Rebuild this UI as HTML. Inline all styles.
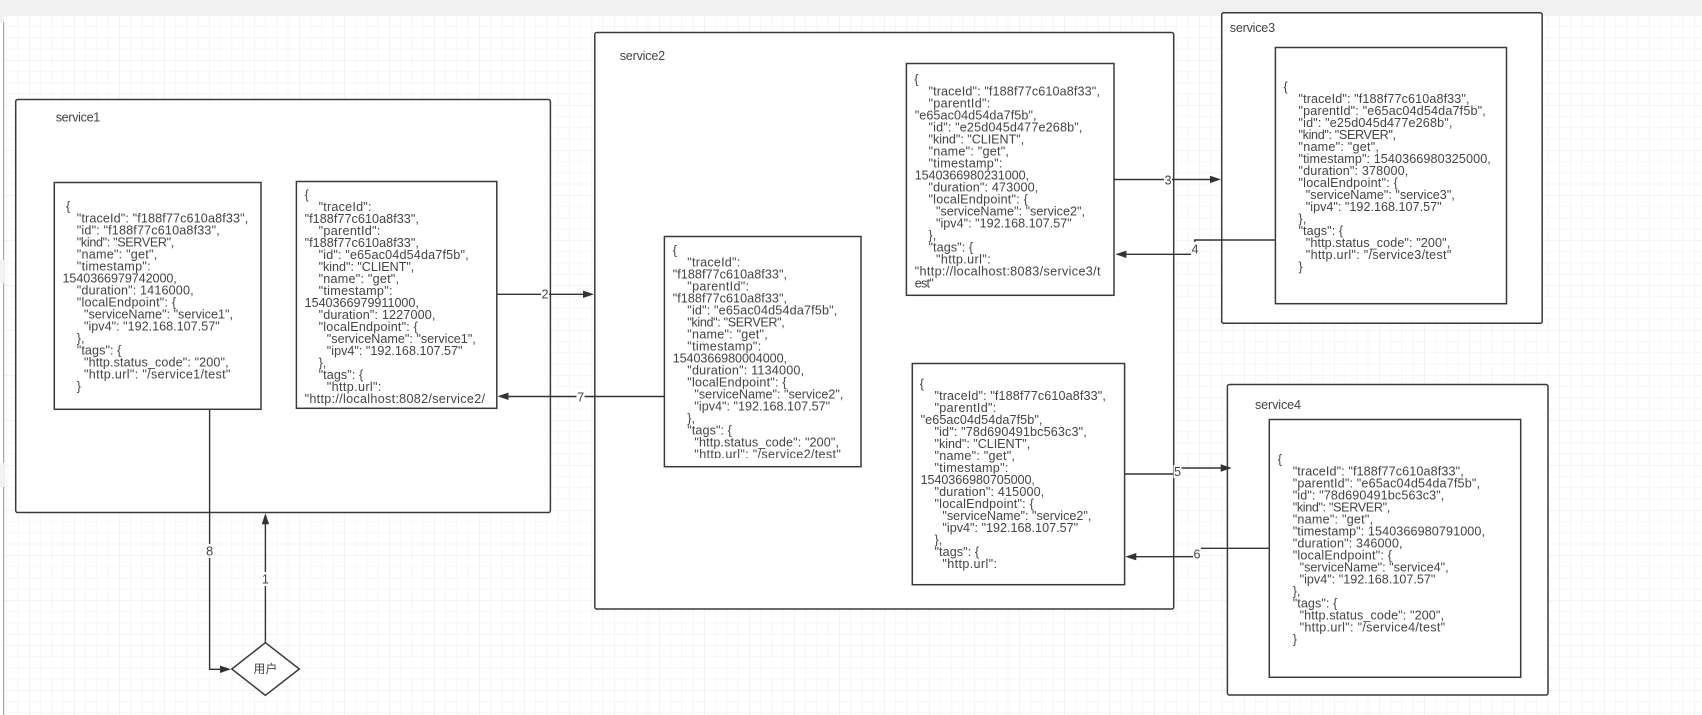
<!DOCTYPE html>
<html><head><meta charset="utf-8"><style>
html,body{margin:0;padding:0;background:#fff;width:1702px;height:715px;overflow:hidden}
svg{display:block}
.t{font-family:"Liberation Sans","Noto Sans CJK SC",sans-serif;font-size:12.6px;fill:#444}
.b{fill:#fff;stroke:#3a3a3a;stroke-width:1.5}
.l{fill:none;stroke:#333;stroke-width:1.4}
.a{fill:#333}
.w{fill:#fff}
</style></head><body>
<svg width="1702" height="715" viewBox="0 0 1702 715" xmlns="http://www.w3.org/2000/svg">
<defs>
<pattern id="g" patternUnits="userSpaceOnUse" x="29.3" y="15.3" width="45" height="45">
<path d="M11.25 0V45M22.5 0V45M33.75 0V45M0 11.25H45M0 22.5H45M0 33.75H45" stroke="#f6f6f6" stroke-width="1" fill="none"/>
<path d="M0 0V45M0 0H45" stroke="#e8e8e8" stroke-width="1" fill="none"/>
</pattern>
</defs>
<rect width="1702" height="715" fill="#fff"/>
<rect x="0" y="15" width="1702" height="700" fill="url(#g)"/>
<rect x="0" y="0" width="1702" height="15.5" fill="#f1f1f1"/>
<rect x="0" y="15" width="4" height="8" fill="#f1f1f1"/>
<rect x="0" y="23" width="3" height="692" fill="#fff"/>
<rect x="3" y="22" width="1.2" height="693" fill="#a6a6a6"/>
<rect x="0" y="260" width="4" height="23" fill="#f2f2f2"/>
<rect x="0" y="463" width="4" height="24" fill="#f2f2f2"/>

<!-- containers -->
<rect class="b" x="15.7" y="99.5" width="534.7" height="413" rx="2"/>
<rect class="b" x="594.8" y="32.5" width="578.9" height="576.5" rx="2"/>
<rect class="b" x="1221.7" y="12.7" width="320.5" height="310.6" rx="2"/>
<rect class="b" x="1227.4" y="384.5" width="320.6" height="310.5" rx="2"/>

<text class="t" x="55.7" y="121.7" textLength="44.6">service1</text>
<text class="t" x="619.7" y="60" textLength="45.5">service2</text>
<text class="t" x="1229.8" y="32" textLength="45.3">service3</text>
<text class="t" x="1255" y="409" textLength="46">service4</text>

<!-- connectors -->
<path class="l" d="M496.8 294.3H583"/><polygon class="a" points="594,294.3 583,290.6 583,298"/>
<path class="l" d="M664.4 396.5H508"/><polygon class="a" points="497.5,396.3 508.5,392.6 508.5,400"/>
<path class="l" d="M1114 179.5H1210"/><polygon class="a" points="1221,179.4 1210,175.7 1210,183.1"/>
<path class="l" d="M1275.4 240H1194.8V254.3H1126"/><polygon class="a" points="1115.4,254.3 1126.4,250.6 1126.4,258"/>
<path class="l" d="M1124.6 474H1177.5V468H1221"/><polygon class="a" points="1231.7,468 1220.7,464.3 1220.7,471.7"/>
<path class="l" d="M1269.3 548.3H1197V556.7H1136"/><polygon class="a" points="1125.3,556.7 1136.3,553 1136.3,560.4"/>
<path class="l" d="M209.6 409V669.3H220"/><polygon class="a" points="231,669.3 220,665.6 220,673"/>
<path class="l" d="M265.4 642.7V524"/><polygon class="a" points="265.4,513.3 261.7,524.3 269.1,524.3"/>

<!-- connector labels -->
<rect class="w" x="541" y="288" width="8" height="13"/><text class="t" x="545" y="298.7" text-anchor="middle">2</text>
<rect class="w" x="576.5" y="390" width="8" height="13"/><text class="t" x="580.6" y="401.3" text-anchor="middle">7</text>
<rect class="w" x="1164" y="173" width="8" height="13"/><text class="t" x="1168" y="184.3" text-anchor="middle">3</text>
<rect class="w" x="1191" y="242" width="8" height="13"/><text class="t" x="1195" y="253.3" text-anchor="middle">4</text>
<rect class="w" x="1173.5" y="465" width="8" height="13"/><text class="t" x="1177.5" y="476" text-anchor="middle">5</text>
<rect class="w" x="1193" y="547" width="8" height="13"/><text class="t" x="1197" y="558.3" text-anchor="middle">6</text>
<rect class="w" x="205.6" y="544" width="8" height="14"/><text class="t" x="209.6" y="555.3" text-anchor="middle">8</text>
<rect class="w" x="261.4" y="572" width="8" height="14"/><text class="t" x="265.4" y="583.3" text-anchor="middle">1</text>

<!-- diamond -->
<polygon class="b" points="265.4,642.7 299.3,669 265.4,695.3 231.8,669"/>
<text class="t" x="265.4" y="673" text-anchor="middle" style="font-size:12px">用户</text>

<!-- box A -->
<rect class="b" x="54.3" y="182.5" width="206.7" height="226.8"/>
<g class="t">
<text x="66" y="210.3">{</text>
<text x="76.8" y="222.3" textLength="171.4">"traceId": "f188f77c610a8f33",</text>
<text x="76.8" y="234.3" textLength="142.9">"id": "f188f77c610a8f33",</text>
<text x="76.8" y="246.3" textLength="97.5">"kind": "SERVER",</text>
<text x="76.8" y="258.3" textLength="80.4">"name": "get",</text>
<text x="76.8" y="270.3" textLength="73.9">"timestamp":</text>
<text x="62.5" y="282.3" textLength="114.3">1540366979742000,</text>
<text x="76.8" y="294.3" textLength="116.8">"duration": 1416000,</text>
<text x="76.8" y="306.3" textLength="99.3">"localEndpoint": {</text>
<text x="84" y="318.3" textLength="149">"serviceName": "service1",</text>
<text x="84" y="330.3" textLength="135.7">"ipv4": "192.168.107.57"</text>
<text x="76.8" y="342.3">},</text>
<text x="76.8" y="354.3" textLength="44.6">"tags": {</text>
<text x="84" y="366.3" textLength="144.6">"http.status_code": "200",</text>
<text x="84" y="378.3" textLength="146.4">"http.url": "/service1/test"</text>
<text x="76.8" y="390.3">}</text>
</g>

<!-- box B -->
<rect class="b" x="296.4" y="181.5" width="200.4" height="226.8"/>
<g class="t">
<text x="304.6" y="199">{</text>
<text x="318.6" y="211" textLength="52.9">"traceId":</text>
<text x="304.6" y="223" textLength="114.3">"f188f77c610a8f33",</text>
<text x="318.6" y="235" textLength="61.8">"parentId":</text>
<text x="304.6" y="247" textLength="114.3">"f188f77c610a8f33",</text>
<text x="318.6" y="259" textLength="150">"id": "e65ac04d54da7f5b",</text>
<text x="318.6" y="271" textLength="95.7">"kind": "CLIENT",</text>
<text x="318.6" y="283" textLength="80.4">"name": "get",</text>
<text x="318.6" y="295" textLength="73.9">"timestamp":</text>
<text x="304.6" y="307" textLength="114.3">1540366979911000,</text>
<text x="318.6" y="319" textLength="116.8">"duration": 1227000,</text>
<text x="318.6" y="331" textLength="99.3">"localEndpoint": {</text>
<text x="326.8" y="343" textLength="149">"serviceName": "service1",</text>
<text x="326.8" y="355" textLength="135.7">"ipv4": "192.168.107.57"</text>
<text x="318.6" y="367">},</text>
<text x="318.6" y="379" textLength="44.6">"tags": {</text>
<text x="326.8" y="391" textLength="54.6">"http.url":</text>
<text x="304.6" y="403" textLength="180.4">"http://localhost:8082/service2/</text>
</g>

<!-- box C -->
<rect class="b" x="664.4" y="236.5" width="196.6" height="230.2"/>
<g class="t">
<text x="672.7" y="254.3">{</text>
<text x="687.3" y="266.3" textLength="52.9">"traceId":</text>
<text x="672.7" y="278.3" textLength="114.3">"f188f77c610a8f33",</text>
<text x="687.3" y="290.3" textLength="61.8">"parentId":</text>
<text x="672.7" y="302.3" textLength="114.3">"f188f77c610a8f33",</text>
<text x="687.3" y="314.3" textLength="150">"id": "e65ac04d54da7f5b",</text>
<text x="687.3" y="326.3" textLength="97.5">"kind": "SERVER",</text>
<text x="687.3" y="338.3" textLength="80.4">"name": "get",</text>
<text x="687.3" y="350.3" textLength="73.9">"timestamp":</text>
<text x="672.7" y="362.3" textLength="114.3">1540366980004000,</text>
<text x="687.3" y="374.3" textLength="116.8">"duration": 1134000,</text>
<text x="687.3" y="386.3" textLength="99.3">"localEndpoint": {</text>
<text x="694.4" y="398.3" textLength="149">"serviceName": "service2",</text>
<text x="694.4" y="410.3" textLength="135.7">"ipv4": "192.168.107.57"</text>
<text x="687.3" y="422.3">},</text>
<text x="687.3" y="434.3" textLength="44.6">"tags": {</text>
<text x="694.4" y="446.3" textLength="144.6">"http.status_code": "200",</text>
<text x="694.4" y="458.3" textLength="146.4">"http.url": "/service2/test"</text>
</g>
<rect class="w" x="668" y="458" width="190" height="7.5"/>

<!-- box D -->
<rect class="b" x="906.4" y="63.5" width="207.6" height="231.8"/>
<g class="t">
<text x="914.3" y="83.6">{</text>
<text x="928.5" y="95.6" textLength="171.4">"traceId": "f188f77c610a8f33",</text>
<text x="928.5" y="107.6" textLength="61.8">"parentId":</text>
<text x="914.7" y="119.6" textLength="121.8">"e65ac04d54da7f5b",</text>
<text x="928.5" y="131.6" textLength="153.9">"id": "e25d045d477e268b",</text>
<text x="928.5" y="143.6" textLength="95.7">"kind": "CLIENT",</text>
<text x="928.5" y="155.6" textLength="80.4">"name": "get",</text>
<text x="928.5" y="167.6" textLength="73.9">"timestamp":</text>
<text x="914.7" y="179.6" textLength="114.3">1540366980231000,</text>
<text x="928.5" y="191.6" textLength="109.8">"duration": 473000,</text>
<text x="928.5" y="203.6" textLength="99.3">"localEndpoint": {</text>
<text x="936" y="215.6" textLength="149">"serviceName": "service2",</text>
<text x="936" y="227.6" textLength="135.7">"ipv4": "192.168.107.57"</text>
<text x="928.5" y="239.6">},</text>
<text x="928.5" y="251.6" textLength="44.6">"tags": {</text>
<text x="936" y="263.6" textLength="54.6">"http.url":</text>
<text x="914.7" y="275.6" textLength="185.8">"http://localhost:8083/service3/t</text>
<text x="914.7" y="287.6" textLength="19">est"</text>
</g>

<!-- box E -->
<rect class="b" x="912.3" y="363.5" width="212.3" height="221.2"/>
<g class="t">
<text x="919.8" y="388">{</text>
<text x="934.5" y="400" textLength="171.4">"traceId": "f188f77c610a8f33",</text>
<text x="934.5" y="412" textLength="61.8">"parentId":</text>
<text x="920.6" y="424" textLength="121.8">"e65ac04d54da7f5b",</text>
<text x="934.5" y="436" textLength="152.2">"id": "78d690491bc563c3",</text>
<text x="934.5" y="448" textLength="95.7">"kind": "CLIENT",</text>
<text x="934.5" y="460" textLength="80.4">"name": "get",</text>
<text x="934.5" y="472" textLength="73.9">"timestamp":</text>
<text x="920.6" y="484" textLength="114.3">1540366980705000,</text>
<text x="934.5" y="496" textLength="109.8">"duration": 415000,</text>
<text x="934.5" y="508" textLength="99.3">"localEndpoint": {</text>
<text x="942.4" y="520" textLength="149">"serviceName": "service2",</text>
<text x="942.4" y="532" textLength="135.7">"ipv4": "192.168.107.57"</text>
<text x="934.5" y="544">},</text>
<text x="934.5" y="556" textLength="44.6">"tags": {</text>
<text x="942.4" y="568" textLength="54.6">"http.url":</text>
</g>

<!-- box F -->
<rect class="b" x="1275.4" y="47.5" width="231.1" height="256.2"/>
<g class="t">
<text x="1283.5" y="91">{</text>
<text x="1298.5" y="103" textLength="171">"traceId": "f188f77c610a8f33",</text>
<text x="1298.5" y="115" textLength="187.3">"parentId": "e65ac04d54da7f5b",</text>
<text x="1298.5" y="127" textLength="153.9">"id": "e25d045d477e268b",</text>
<text x="1298.5" y="139" textLength="97.5">"kind": "SERVER",</text>
<text x="1298.5" y="151" textLength="80.4">"name": "get",</text>
<text x="1298.5" y="163" textLength="192.3">"timestamp": 1540366980325000,</text>
<text x="1298.5" y="175" textLength="109.8">"duration": 378000,</text>
<text x="1298.5" y="187" textLength="99.3">"localEndpoint": {</text>
<text x="1305.8" y="199" textLength="149">"serviceName": "service3",</text>
<text x="1305.8" y="211" textLength="135.8">"ipv4": "192.168.107.57"</text>
<text x="1298.5" y="223">},</text>
<text x="1298.5" y="235" textLength="44.6">"tags": {</text>
<text x="1305.8" y="247" textLength="144.4">"http.status_code": "200",</text>
<text x="1305.8" y="259" textLength="145.5">"http.url": "/service3/test"</text>
<text x="1298.5" y="271">}</text>
</g>

<!-- box G -->
<rect class="b" x="1269.3" y="419.5" width="251.4" height="257.8"/>
<g class="t">
<text x="1277.7" y="463.6">{</text>
<text x="1292.7" y="475.6" textLength="171">"traceId": "f188f77c610a8f33",</text>
<text x="1292.7" y="487.6" textLength="187.3">"parentId": "e65ac04d54da7f5b",</text>
<text x="1292.7" y="499.6" textLength="151.6">"id": "78d690491bc563c3",</text>
<text x="1292.7" y="511.6" textLength="97.5">"kind": "SERVER",</text>
<text x="1292.7" y="523.6" textLength="80.4">"name": "get",</text>
<text x="1292.7" y="535.6" textLength="192.3">"timestamp": 1540366980791000,</text>
<text x="1292.7" y="547.6" textLength="109.8">"duration": 346000,</text>
<text x="1292.7" y="559.6" textLength="99.3">"localEndpoint": {</text>
<text x="1299.6" y="571.6" textLength="149">"serviceName": "service4",</text>
<text x="1299.6" y="583.6" textLength="135.8">"ipv4": "192.168.107.57"</text>
<text x="1292.7" y="595.6">},</text>
<text x="1292.7" y="607.6" textLength="44.6">"tags": {</text>
<text x="1299.6" y="619.6" textLength="144.4">"http.status_code": "200",</text>
<text x="1299.6" y="631.6" textLength="145.5">"http.url": "/service4/test"</text>
<text x="1292.7" y="643.6">}</text>
</g>
</svg>
</body></html>
